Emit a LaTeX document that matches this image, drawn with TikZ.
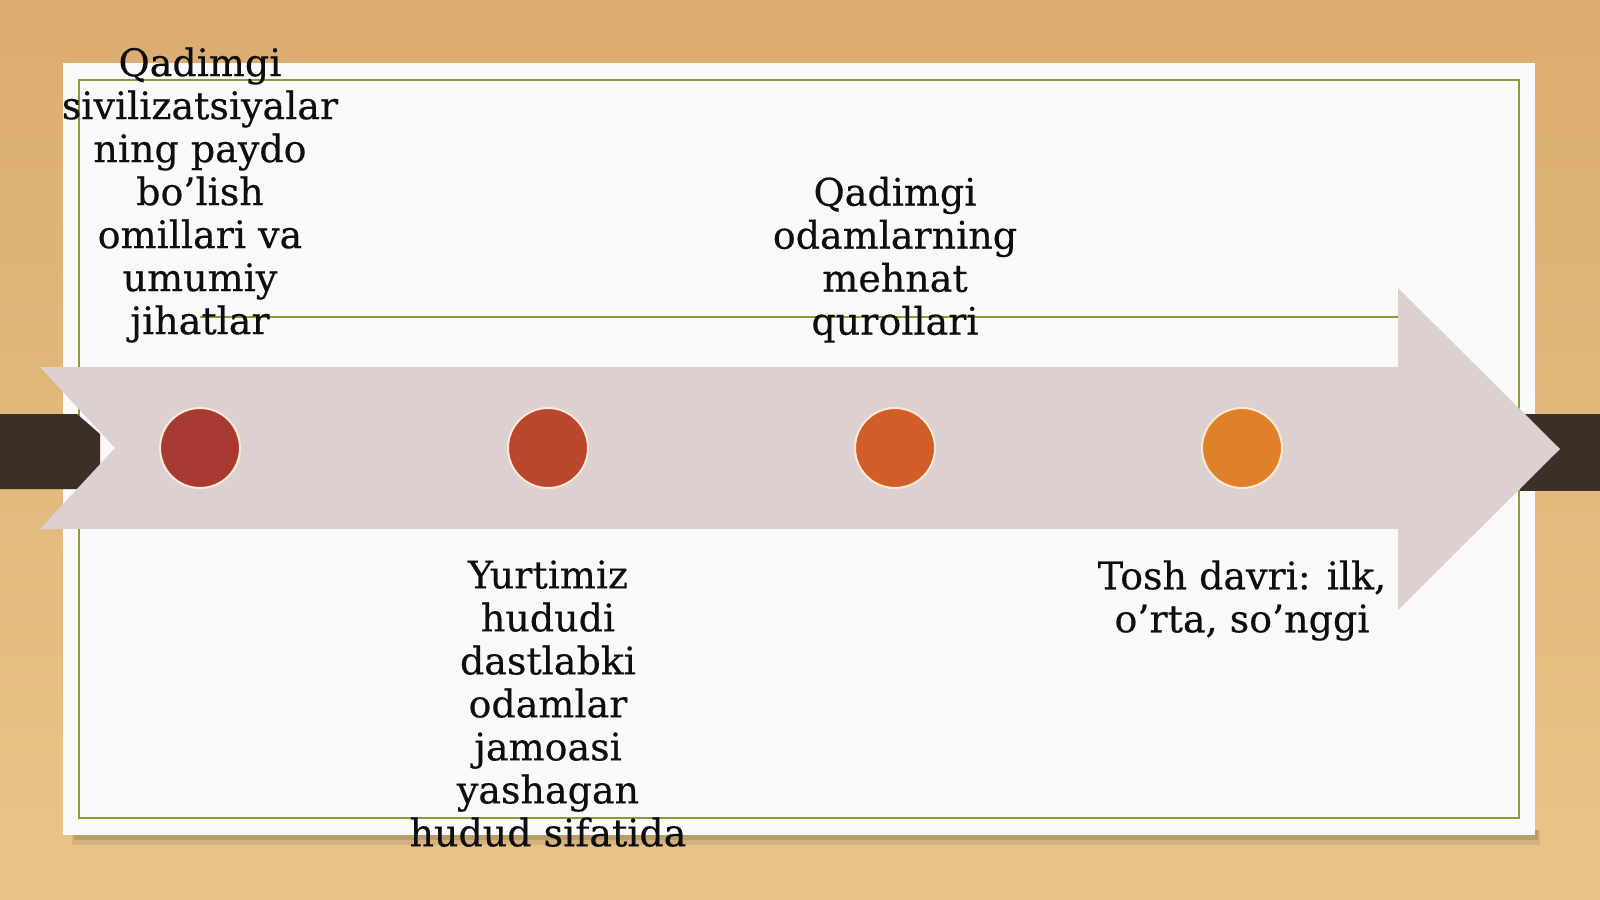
\documentclass[tikz,border=0pt]{standalone}
\usepackage{fontspec}
\setmainfont[FakeBold=0.4]{DejaVu Serif}
\usepackage{tikz}
\usetikzlibrary{positioning}

\definecolor{woodTop}{HTML}{DBAC72}
\definecolor{woodMid}{HTML}{EDCB92}
\definecolor{woodBottom}{HTML}{E9C488}
\definecolor{paper}{HTML}{FAF9F8}
\definecolor{frameGreen}{HTML}{8A9A3E}
\definecolor{arrowGrey}{HTML}{DDD0D0}
\definecolor{barDark}{HTML}{3C2F27}
\definecolor{dotRim}{HTML}{FBEAD3}
\definecolor{dotA}{HTML}{A93A33}
\definecolor{dotB}{HTML}{B9472D}
\definecolor{dotC}{HTML}{D15E28}
\definecolor{dotD}{HTML}{E0802A}
\definecolor{textDark}{HTML}{0E0E0E}

\begin{document}
\begin{tikzpicture}[x=0.5pt, y=-0.5pt,
    dot/.style={circle, draw=dotRim, line width=1pt, minimum size=40pt, inner sep=0pt},
    stage/.style={align=center, font=\fontsize{19}{21.5}\selectfont, text=textDark, inner sep=0pt}]
\useasboundingbox (0,0) rectangle (1600,899);
% wooden background
\shade[top color=woodTop, middle color=woodMid, bottom color=woodBottom] (0,0) rectangle (1600,899);
% sheet with its shadow and frame
\fill[black, opacity=0.08] (72,830) rectangle (1540,845);
\fill[black, opacity=0.12] (74,830) rectangle (1538,840);
\fill[paper] (63,63) rectangle (1535,835);
\draw[frameGreen, line width=1pt] (79,80) rectangle (1519,818);
% dark bars behind the arrow
\fill[barDark] (0,414) -- (77,414) -- (100,434) -- (100,468) -- (77,489) -- (0,489) -- cycle;
\fill[barDark] (1520,414) rectangle (1600,491);
% time line
\coordinate (LineStart) at (200,317);
\coordinate (LineEnd) at (1398,317);
\draw[frameGreen, line width=1pt] (LineStart) -- (LineEnd);
% big arrow
\fill[arrowGrey] (40,367) -- (1398,367) -- (1398,288) -- (1560,449) -- (1398,610)
    -- (1398,529) -- (40,529) -- (115,448) -- cycle;
% dots
\node (Dot1) [dot, fill=dotA] at (200,448) {};
\node (Dot2) [dot, fill=dotB] at (548,448) {};
\node (Dot3) [dot, fill=dotC] at (895,448) {};
\node (Dot4) [dot, fill=dotD] at (1242,448) {};
% texts
\node (Stage1) [stage, above=32pt of Dot1] {Qadimgi\\ sivilizatsiyalar\\ ning paydo\\ bo’lish\\ omillari va\\ umumiy\\ jihatlar};
\node (Stage2) [stage, below=35.5pt of Dot2] {Yurtimiz\\ hududi\\ dastlabki\\ odamlar\\ jamoasi\\ yashagan\\ hudud sifatida};
\node (Stage3) [stage, above=32pt of Dot3] {Qadimgi\\ odamlarning\\ mehnat\\ qurollari};
\node (Stage4) [stage, below=35.5pt of Dot4] {Tosh davri: ilk,\\ o’rta, so’nggi};
\end{tikzpicture}
\end{document}
